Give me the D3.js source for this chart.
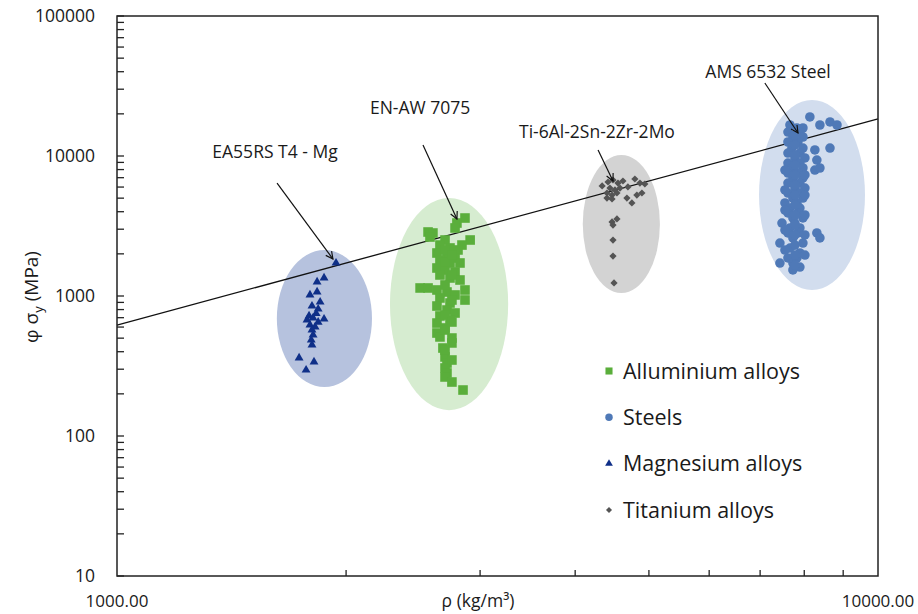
<!DOCTYPE html>
<html>
<head>
<meta charset="utf-8">
<script src="https://d3js.org/d3.v7.min.js"></script>
<style>
  body { margin: 0; background: #fff; }
  text { font-family: "Open Sans", sans-serif; fill: #1a1a1a; }
</style>
</head>
<body>
<script>

// density (kg/m3), phi*sigma_y (MPa)
var magnesium = [
  [1940,1720],[1871,1345],[1832,1260],[1832,1070],[1793,1017],[1849,906],[1804,848],
  [1838,807],[1827,750],[1788,720],[1871,685],[1777,674],[1810,697],[1838,650],
  [1793,621],[1821,601],[1804,572],[1810,527],[1800,485],[1804,447],[1735,361],
  [1815,338],[1772,296]
];
var aluminium = [
  [2866,3606],[2797,3321],[2781,3062],[2563,2865],[2601,2818],[2578,2638],[2698,2512],
  [2911,2512],[2840,2312],[2657,2312],[2739,2203],[2806,2132],[2633,2028],[2714,1963],
  [2781,1868],[2657,1808],[2739,1721],[2823,1721],[2633,1585],[2698,1535],[2781,1484],
  [2657,1413],[2739,1345],[2823,1301],[2502,1141],[2563,1141],[2633,1104],[2866,1104],
  [2714,1068],[2781,1017],[2657,968],[2866,936],[2739,891],[2633,848],[2714,794],
  [2781,756],[2657,720],[2739,674],[2633,641],[2698,591],[2633,544],[2657,510],
  [2755,462],[2681,425],[2698,367],[2714,332],[2698,306],[2714,282],[2698,264],[2849,213],
  [2698,2132],[2698,1750],[2698,1199],[2698,731],[2698,572],[2698,411],
  [2755,1963],[2755,1413],[2755,936],[2755,652],[2755,501],[2755,349],[2755,243]
];
var titanium = [
  [4418,6520],[4485,6740],[4553,6410],[4622,6630],[4692,6010],[4792,6850],[4866,6410],
  [4939,6310],[4444,5900],[4512,5720],[4581,5900],[4404,5440],[4472,5260],[4539,5440],
  [4678,5010],[4749,4620],[4821,5260],[4895,5440],[4404,5010],[4472,4930],[4340,6110],
  [4472,3380],[4539,3550],[4485,3210],[4485,2510],[4485,1930],[4499,1240]
];
var steels = [
  [7661,16650],[7824,15850],[7968,15850],[8137,19000],[8388,16650],[8648,17500],[8833,16650],
  [7615,14830],[7895,14830],[7730,13670],[7968,13670],[7615,12590],[7848,12590],[7707,11400],
  [7968,11400],[7615,10500],[7895,10500],[7777,9680],[8016,9680],[7615,8910],[7895,8910],
  [7730,8210],[7968,8210],[7615,7560],[7848,7560],[7730,6970],[7968,6970],[7615,6410],
  [7895,6410],[7777,5900],[8016,5900],[7615,5440],[7895,5440],[7730,5010],[7968,5010],
  [7546,4620],[7824,4620],[7661,4250],[7895,4250],[7615,3920],[7848,3920],[7730,3610],
  [7968,3610],[7479,3320],[7777,3320],[7661,3060],[7895,3060],[7615,2820],[7848,2820],
  [7432,2390],[7730,2600],[7968,2390],[7661,2200],[7895,2030],[7615,1870],[7432,1720],
  [7824,1870],[7730,1720],[7895,1610],[7730,1535],
  [8648,11400],[8261,11040],[8311,9360],[8261,7940],[8388,8210],[8311,2820],[8388,2600],
  [7777,14130],[7777,11990],[7777,10170],[7777,8630],[7777,7320],[7777,6210],[7777,5260],
  [7777,4470],[7777,3790],[7777,3210],[7777,2730],[7777,2310],[7777,1960],[7777,1660],
  [7546,7940],[7546,5720],[7546,4110],[7546,2960],[7546,2130],
  [8016,7320],[8016,5260],[8016,3790],[8016,2730],[8016,1960]
];

// ellipses enclosing each family: [rhoMin, rhoMax, sigmaMin, sigmaMax]
var ellMagnesium = [1622, 2163, 224, 2133];
var ellAluminium = [2284, 3266, 153, 5012];
var ellTitanium = [4093, 5169, 1050, 10160];
var ellSteels = [6977, 9614, 1104, 25120];

// trend line end points
var trendLine = [[1000, 620], [10000, 18400]];

// annotations: label, text position, arrow start, arrow end
var annoLabels = ["EA55RS T4 - Mg", "EN-AW 7075", "Ti-6Al-2Sn-2Zr-2Mo", "AMS 6532 Steel"];
var annoText = [[1613, 9680], [2502, 19950], [4273, 13450], [7170, 36060]];
var annoFrom = [[1623, 6410], [2524, 11990], [4287, 11040], [7101, 33200]];
var annoTo = [[1922, 1837], [2797, 3548], [4485, 6630], [7850, 14590]];

var yTickLabels = [10, 100, 1000, 10000, 100000];
var xTickLabels = [1000, 10000];
var legendNames = ["Alluminium alloys", "Steels", "Magnesium alloys", "Titanium alloys"];

var W = 918, H = 614,
    margin = {top: 16, right: 40, bottom: 38, left: 117};

var svg = d3.select("body").append("svg")
    .attr("width", W).attr("height", H);

var x = d3.scaleLog().domain([1000, 10000]).range([margin.left, W - margin.right]);
var y = d3.scaleLog().domain([10, 100000]).range([H - margin.bottom, margin.top]);

// ellipses
var ells = [
  {e: ellMagnesium, fill: "#b6c2de"},
  {e: ellAluminium, fill: "#d6ecd0"},
  {e: ellTitanium, fill: "#d3d3d3"},
  {e: ellSteels, fill: "#d2ddee"}
];
svg.append("g").selectAll("ellipse").data(ells).enter().append("ellipse")
    .attr("cx", d => (x(d.e[0]) + x(d.e[1])) / 2)
    .attr("cy", d => (y(d.e[2]) + y(d.e[3])) / 2)
    .attr("rx", d => (x(d.e[1]) - x(d.e[0])) / 2)
    .attr("ry", d => (y(d.e[2]) - y(d.e[3])) / 2)
    .attr("fill", d => d.fill);

// trend line
svg.append("path")
    .attr("d", d3.line().x(d => x(d[0])).y(d => y(d[1]))(trendLine))
    .attr("stroke", "#111").attr("stroke-width", 1.3).attr("fill", "none");

// series
var series = [
  {data: magnesium, type: d3.symbolTriangle, size: 34, color: "#0f2f88", rot: 0},
  {data: aluminium, type: d3.symbolSquare, size: 92, color: "#5aae3b", rot: 0},
  {data: titanium, type: d3.symbolSquare, size: 26, color: "#545454", rot: 45},
  {data: steels, type: d3.symbolCircle, size: 72, color: "#4f79b7", rot: 0}
];
series.forEach(function(s) {
  svg.append("g").selectAll("path").data(s.data).enter().append("path")
      .attr("d", d3.symbol().type(s.type).size(s.size))
      .attr("transform", d => "translate(" + x(d[0]) + "," + y(d[1]) + ") rotate(" + s.rot + ")")
      .attr("fill", s.color);
});

// annotations
svg.append("defs").append("marker")
    .attr("id", "arr").attr("viewBox", "0 0 10 10")
    .attr("refX", 9).attr("refY", 5)
    .attr("markerWidth", 9).attr("markerHeight", 9)
    .attr("markerUnits", "userSpaceOnUse")
    .attr("orient", "auto")
  .append("path").attr("d", "M1,1 L9,5 L1,9")
    .attr("fill", "none").attr("stroke", "#111").attr("stroke-width", 1.3);

annoLabels.forEach(function(lab, i) {
  svg.append("line")
      .attr("x1", x(annoFrom[i][0])).attr("y1", y(annoFrom[i][1]))
      .attr("x2", x(annoTo[i][0])).attr("y2", y(annoTo[i][1]))
      .attr("stroke", "#111").attr("stroke-width", 1.2)
      .attr("marker-end", "url(#arr)");
  svg.append("text")
      .attr("x", x(annoText[i][0])).attr("y", y(annoText[i][1]))
      .attr("text-anchor", "middle").style("font-size", "17.5px")
      .text(lab);
});

// axes
var yMinor = [];
[10, 100, 1000, 10000].forEach(function(dec) {
  for (var k = 2; k <= 9; k++) yMinor.push(dec * k);
});
var xMinor = [2000, 3000, 4000, 5000, 6000, 7000, 8000, 9000];

svg.append("rect")
    .attr("x", margin.left).attr("y", margin.top)
    .attr("width", W - margin.left - margin.right)
    .attr("height", H - margin.top - margin.bottom)
    .attr("fill", "none").attr("stroke", "#222").attr("stroke-width", 1.5);

svg.append("g").selectAll("line").data(yMinor.concat(yTickLabels)).enter().append("line")
    .attr("x1", margin.left).attr("x2", margin.left + 7)
    .attr("y1", d => y(d)).attr("y2", d => y(d))
    .attr("stroke", "#222").attr("stroke-width", 1.3);

svg.append("g").selectAll("line").data(xMinor).enter().append("line")
    .attr("x1", d => x(d)).attr("x2", d => x(d))
    .attr("y1", H - margin.bottom).attr("y2", H - margin.bottom - 6)
    .attr("stroke", "#222").attr("stroke-width", 1.3);

svg.append("g").selectAll("text").data(yTickLabels).enter().append("text")
    .attr("x", margin.left - 22).attr("y", d => y(d))
    .attr("dy", "0.35em").attr("text-anchor", "end")
    .style("font-size", "17.5px")
    .text(d => d);

svg.append("g").selectAll("text").data(xTickLabels).enter().append("text")
    .attr("x", d => x(d)).attr("y", 607)
    .attr("text-anchor", "middle")
    .style("font-size", "17px")
    .text(d3.format(".2f"));

svg.append("text")
    .attr("x", 478).attr("y", 607)
    .attr("text-anchor", "middle").style("font-size", "17.5px")
    .text("ρ (kg/m³)");

var yt = svg.append("text")
    .attr("transform", "translate(38,297) rotate(-90)")
    .attr("text-anchor", "middle").style("font-size", "19px");
yt.append("tspan").text("φ σ");
yt.append("tspan").attr("dy", 5).style("font-size", "13px").text("y");
yt.append("tspan").attr("dy", -5).text(" (MPa)");

// legend
var legendSym = [
  {type: d3.symbolSquare, size: 50, color: "#5aae3b", rot: 0},
  {type: d3.symbolCircle, size: 44, color: "#4f79b7", rot: 0},
  {type: d3.symbolTriangle, size: 26, color: "#0f2f88", rot: 0},
  {type: d3.symbolSquare, size: 18, color: "#545454", rot: 45}
];
var lg = svg.append("g").selectAll("g").data(legendNames).enter().append("g")
    .attr("transform", (d, i) => "translate(609," + (371 + i * 46.3) + ")");
lg.append("path")
    .attr("d", (d, i) => d3.symbol().type(legendSym[i].type).size(legendSym[i].size)())
    .attr("transform", (d, i) => "rotate(" + legendSym[i].rot + ")")
    .attr("fill", (d, i) => legendSym[i].color);
lg.append("text")
    .attr("x", 14).attr("dy", "0.36em")
    .style("font-size", "21.5px")
    .text(d => d);

</script>
</body>
</html>
